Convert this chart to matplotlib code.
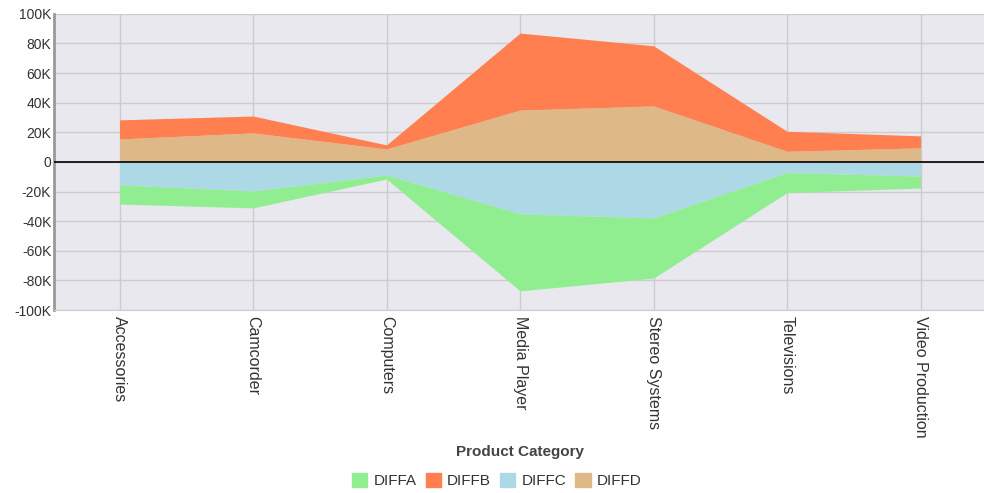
import numpy as np
import matplotlib.pyplot as plt
from matplotlib.patches import Patch
from matplotlib.ticker import FuncFormatter

plt.rcParams['font.family'] = ['Liberation Sans', 'DejaVu Sans']

categories = ['Accessories', 'Camcorder', 'Computers', 'Media Player',
              'Stereo Systems', 'Televisions', 'Video Production']
# values in thousands
diffd = [15.5, 19.6, 8.8, 35.0, 37.8, 7.2, 9.5]
diffb = [12.9, 11.4, 2.7, 52.0, 40.6, 13.5, 8.1]
diffc = [-15.5, -19.6, -8.8, -35.0, -37.8, -7.2, -9.5]
diffa = [-12.9, -11.4, -2.7, -52.0, -40.6, -13.5, -8.1]

col_a = '#90ee90'
col_b = '#ff7f50'
col_c = '#add8e6'
col_d = '#deb887'

x = np.arange(len(categories))
d = np.array(diffd) * 1000
b = np.array(diffb) * 1000
c = np.array(diffc) * 1000
a = np.array(diffa) * 1000

fig = plt.figure(figsize=(9.84, 4.93), dpi=100)
ax = fig.add_axes([0.055, 0.371, 0.947, 0.601])
ax.set_facecolor('#e8e8ee')

ax.fill_between(x, 0, d, color=col_d, lw=0, zorder=2)
ax.fill_between(x, d, d + b, color=col_b, lw=0, zorder=2)
ax.fill_between(x, 0, c, color=col_c, lw=0, zorder=2)
ax.fill_between(x, c, c + a, color=col_a, lw=0, zorder=2)
ax.axhline(0, color='black', lw=1.2, zorder=3)

ax.set_xlim(-0.49, 6.49)
ax.set_ylim(-100000, 100000)
ax.set_yticks(np.arange(-100000, 100001, 20000))
ax.yaxis.set_major_formatter(FuncFormatter(
    lambda v, p: '0' if v == 0 else '%dK' % round(v / 1000)))
ax.set_xticks(x)
ax.set_xticklabels(categories, rotation=270, ha='center', va='top')
ax.grid(True, color='#cccccc', lw=1, zorder=1)
ax.set_axisbelow(True)
ax.tick_params(axis='both', length=0, colors='#333333')
ax.tick_params(axis='x', pad=4, labelsize=11.5)
ax.tick_params(axis='y', pad=2, labelsize=10)

for s in ['top', 'right']:
    ax.spines[s].set_visible(False)
ax.spines['left'].set_color('#999999')
ax.spines['left'].set_linewidth(2)
ax.spines['bottom'].set_color('#cccccc')

fig.text(0.528, 0.083, 'Product Category', ha='center', va='center',
         fontsize=11, fontweight='bold', color='#444444')

handles = [Patch(color=col_a, label='DIFFA'), Patch(color=col_b, label='DIFFB'),
           Patch(color=col_c, label='DIFFC'), Patch(color=col_d, label='DIFFD')]
fig.legend(handles=handles, loc='center', bbox_to_anchor=(0.505, 0.025),
           ncol=4, frameon=False, fontsize=11, handlelength=1.0,
           handleheight=1.0, handletextpad=0.4, columnspacing=0.6,
           labelcolor='#333333')

fig.savefig('out.png', dpi=100)
